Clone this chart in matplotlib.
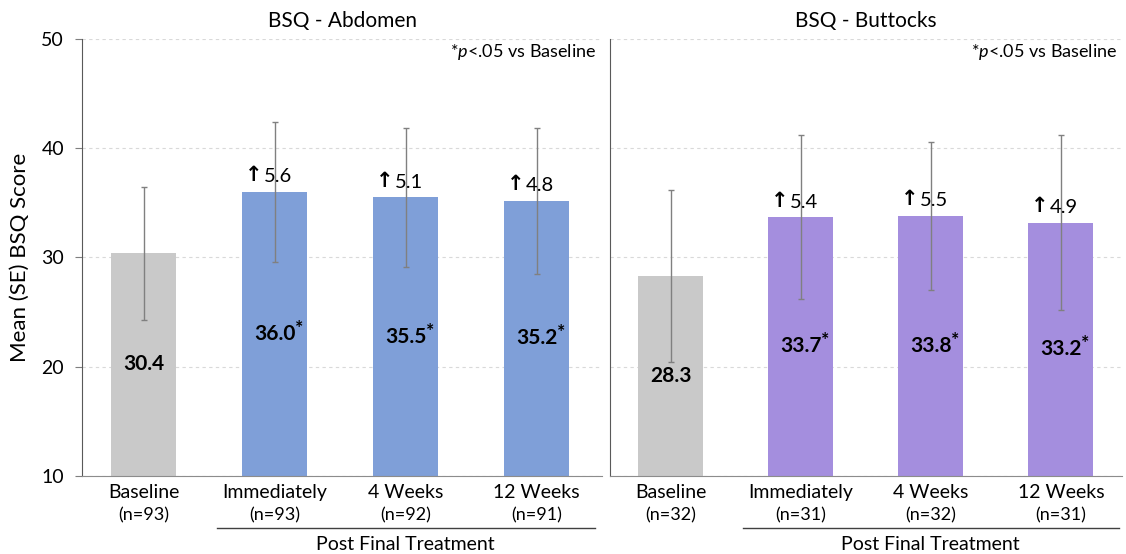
import numpy as np
import matplotlib
matplotlib.use('Agg')
import matplotlib.pyplot as plt
import matplotlib.transforms as mtransforms

plt.rcParams['font.family'] = ['Lato', 'DejaVu Sans']
plt.rcParams['mathtext.fontset'] = 'custom'
plt.rcParams['mathtext.rm'] = 'Lato'
plt.rcParams['mathtext.it'] = 'Lato:italic'
plt.rcParams['mathtext.bf'] = 'Lato:bold'

# data
categories = ['Baseline', 'Immediately', '4 Weeks', '12 Weeks']
abd_n = [93, 93, 92, 91]
abd_mean = [30.4, 36.0, 35.5, 35.2]
abd_se = [6.1, 6.4, 6.4, 6.7]
abd_change = [None, 5.6, 5.1, 4.8]

butt_n = [32, 31, 32, 31]
butt_mean = [28.3, 33.7, 33.8, 33.2]
butt_se = [7.9, 7.5, 6.8, 8.0]
butt_change = [None, 5.4, 5.5, 4.9]

titles = ['BSQ - Abdomen', 'BSQ - Buttocks']
grey = '#C9C9C9'
blue = '#7F9FD8'
purple = '#A48EDE'

W, H = 1126, 554
fig = plt.figure(figsize=(W / 100, H / 100), dpi=100)

ax_top = 1 - 39.3 / H
ax_bot = 1 - 475.7 / H
ax1 = fig.add_axes([82 / W, ax_bot, (602 - 82) / W, ax_top - ax_bot])
ax2 = fig.add_axes([610 / W, ax_bot, (1122 - 610) / W, ax_top - ax_bot])


def draw_panel(ax, means, ses, changes, ns, color, title, xlim):
    x = np.arange(len(categories))
    colors = [grey] + [color] * (len(categories) - 1)
    ax.bar(x, np.array(means) - 10, bottom=10, width=0.5, color=colors, zorder=2)
    ax.errorbar(x, means, yerr=ses, fmt='none', ecolor='#808080', elinewidth=1,
                capsize=2, capthick=1, zorder=3)
    ax.set_ylim(10, 50)
    ax.set_xlim(*xlim)
    ax.set_yticks([10, 20, 30, 40, 50])
    ax.yaxis.grid(True, linestyle=(0, (3, 3)), color='#D9D9D9', linewidth=0.8, zorder=0)
    ax.set_axisbelow(True)
    for s in ['top', 'right']:
        ax.spines[s].set_visible(False)
    ax.spines['bottom'].set_color('#8C8C8C')
    ax.spines['left'].set_color('#595959')
    ax.set_xticks(x)
    ax.set_xticklabels([])
    ax.tick_params(axis='x', length=0)
    ax.set_title(title, fontsize=15, pad=9)
    ax.text(0.99, 0.97, r'*$p$<.05 vs Baseline', transform=ax.transAxes,
            ha='right', va='center', fontsize=13)

    trans = mtransforms.blended_transform_factory(ax.transData, fig.transFigure)
    for i, cat in enumerate(categories):
        ax.text(i, 1 - 492.7 / H, cat, transform=trans, ha='center', va='center', fontsize=14)
        ax.text(i, 1 - 515 / H, f'(n={ns[i]})', transform=trans, ha='center', va='center',
                fontsize=13)
        # value inside bar
        mid = (means[i] + 10) / 2
        ax.text(i, mid, f'{means[i]:.1f}', ha='center', va='center', fontsize=15,
                fontweight='bold', zorder=4)
        if changes[i] is not None:
            ax.annotate('*', xy=(i, mid), xytext=(14.5, 4), textcoords='offset points',
                        ha='left', va='center', fontsize=14, fontweight='bold', zorder=4)
            ax.text(i - 0.085, means[i] + 0.6, f'{changes[i]:.1f}', ha='left',
                    va='bottom', fontsize=14.5, zorder=4)
            ax.text(i - 0.095, means[i] + 0.6, '\u2191', ha='right', va='bottom',
                    fontsize=15, fontweight='bold', family='DejaVu Sans', zorder=4)

    # bracket under the post-treatment groups
    ax.plot([0.56, 3.45], [1 - 527.7 / H] * 2, transform=trans, color='#404040',
            linewidth=1, clip_on=False)
    ax.text(2.0, 1 - 544 / H, 'Post Final Treatment', transform=trans, ha='center',
            va='center', fontsize=14)


draw_panel(ax1, abd_mean, abd_se, abd_change, abd_n, blue, titles[0], (-0.47, 3.5))
draw_panel(ax2, butt_mean, butt_se, butt_change, butt_n, purple, titles[1], (-0.465, 3.47))

ax1.tick_params(axis='y', labelsize=14, length=5, color='#7F7F7F', pad=8)
ax1.set_ylabel('Mean (SE) BSQ Score', fontsize=16, labelpad=8)
ax2.tick_params(axis='y', labelleft=False, length=0)

fig.savefig('out.png', dpi=100)
